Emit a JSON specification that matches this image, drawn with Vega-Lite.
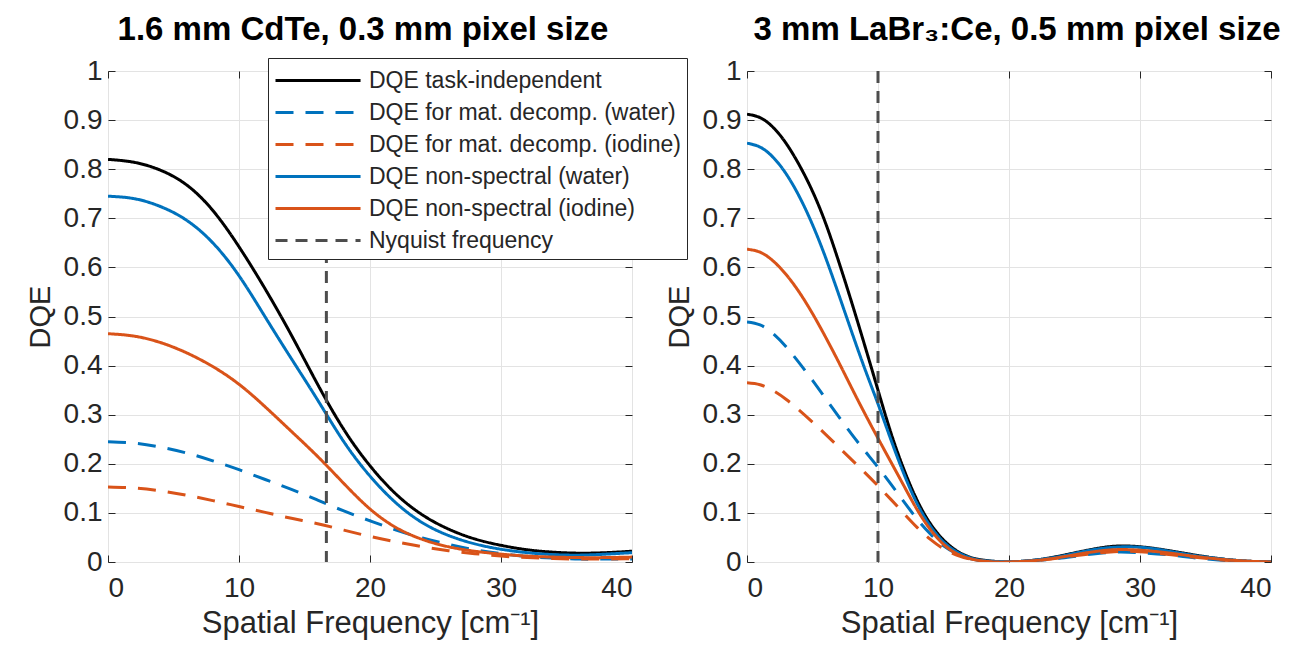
{
  "$schema": "https://vega.github.io/schema/vega-lite/v6.json",
  "background": "white",
  "padding": {"left": 25, "top": 13, "right": 10, "bottom": 10},
  "bounds": "flush",
  "spacing": 115,
  "config": {
    "font": "Liberation Sans",
    "view": {"stroke": "#262626", "strokeWidth": 1},
    "axis": {
      "domain": false,
      "labelFont": "Liberation Sans",
      "titleFont": "Liberation Sans",
      "labelColor": "#262626",
      "titleColor": "#262626",
      "tickColor": "#262626",
      "labelFontSize": 28,
      "titleFontWeight": "normal",
      "gridColor": "#e3e3e3",
      "gridWidth": 1,
      "tickSize": -7,
      "tickWidth": 1
    },
    "axisX": {"titleFontSize": 31, "labelPadding": 19, "titlePadding": 6},
    "axisY": {"titleFontSize": 29, "labelPadding": 13, "titlePadding": 8},
    "title": {"fontSize": 33, "fontWeight": "bold", "color": "#000000", "frame": "group", "anchor": "middle", "offset": 10, "font": "Liberation Sans"}
  },
  "resolve": {"scale": {"color": "independent", "strokeDash": "independent", "strokeWidth": "independent"}},
  "data": {"values": [
    {"panel":"L","series":"DQE task-independent","freq":0,"dqe":0.820},
    {"panel":"L","series":"DQE task-independent","freq":2,"dqe":0.814},
    {"panel":"L","series":"DQE task-independent","freq":4,"dqe":0.798},
    {"panel":"L","series":"DQE task-independent","freq":6,"dqe":0.768},
    {"panel":"L","series":"DQE task-independent","freq":8,"dqe":0.716},
    {"panel":"L","series":"DQE task-independent","freq":10,"dqe":0.642},
    {"panel":"L","series":"DQE task-independent","freq":12,"dqe":0.556},
    {"panel":"L","series":"DQE task-independent","freq":14,"dqe":0.462},
    {"panel":"L","series":"DQE task-independent","freq":16,"dqe":0.362},
    {"panel":"L","series":"DQE task-independent","freq":18,"dqe":0.270},
    {"panel":"L","series":"DQE task-independent","freq":20,"dqe":0.196},
    {"panel":"L","series":"DQE task-independent","freq":22,"dqe":0.138},
    {"panel":"L","series":"DQE task-independent","freq":24,"dqe":0.096},
    {"panel":"L","series":"DQE task-independent","freq":26,"dqe":0.067},
    {"panel":"L","series":"DQE task-independent","freq":28,"dqe":0.047},
    {"panel":"L","series":"DQE task-independent","freq":30,"dqe":0.034},
    {"panel":"L","series":"DQE task-independent","freq":32,"dqe":0.025},
    {"panel":"L","series":"DQE task-independent","freq":34,"dqe":0.020},
    {"panel":"L","series":"DQE task-independent","freq":36,"dqe":0.018},
    {"panel":"L","series":"DQE task-independent","freq":38,"dqe":0.019},
    {"panel":"L","series":"DQE task-independent","freq":40,"dqe":0.022},
    {"panel":"L","series":"DQE for mat. decomp. (water)","freq":0,"dqe":0.245},
    {"panel":"L","series":"DQE for mat. decomp. (water)","freq":2,"dqe":0.242},
    {"panel":"L","series":"DQE for mat. decomp. (water)","freq":4,"dqe":0.234},
    {"panel":"L","series":"DQE for mat. decomp. (water)","freq":6,"dqe":0.222},
    {"panel":"L","series":"DQE for mat. decomp. (water)","freq":8,"dqe":0.206},
    {"panel":"L","series":"DQE for mat. decomp. (water)","freq":10,"dqe":0.188},
    {"panel":"L","series":"DQE for mat. decomp. (water)","freq":12,"dqe":0.168},
    {"panel":"L","series":"DQE for mat. decomp. (water)","freq":14,"dqe":0.148},
    {"panel":"L","series":"DQE for mat. decomp. (water)","freq":16,"dqe":0.126},
    {"panel":"L","series":"DQE for mat. decomp. (water)","freq":18,"dqe":0.104},
    {"panel":"L","series":"DQE for mat. decomp. (water)","freq":20,"dqe":0.084},
    {"panel":"L","series":"DQE for mat. decomp. (water)","freq":22,"dqe":0.065},
    {"panel":"L","series":"DQE for mat. decomp. (water)","freq":24,"dqe":0.049},
    {"panel":"L","series":"DQE for mat. decomp. (water)","freq":26,"dqe":0.036},
    {"panel":"L","series":"DQE for mat. decomp. (water)","freq":28,"dqe":0.025},
    {"panel":"L","series":"DQE for mat. decomp. (water)","freq":30,"dqe":0.017},
    {"panel":"L","series":"DQE for mat. decomp. (water)","freq":32,"dqe":0.011},
    {"panel":"L","series":"DQE for mat. decomp. (water)","freq":34,"dqe":0.008},
    {"panel":"L","series":"DQE for mat. decomp. (water)","freq":36,"dqe":0.006},
    {"panel":"L","series":"DQE for mat. decomp. (water)","freq":38,"dqe":0.006},
    {"panel":"L","series":"DQE for mat. decomp. (water)","freq":40,"dqe":0.006},
    {"panel":"L","series":"DQE for mat. decomp. (iodine)","freq":0,"dqe":0.153},
    {"panel":"L","series":"DQE for mat. decomp. (iodine)","freq":2,"dqe":0.151},
    {"panel":"L","series":"DQE for mat. decomp. (iodine)","freq":4,"dqe":0.145},
    {"panel":"L","series":"DQE for mat. decomp. (iodine)","freq":6,"dqe":0.136},
    {"panel":"L","series":"DQE for mat. decomp. (iodine)","freq":8,"dqe":0.125},
    {"panel":"L","series":"DQE for mat. decomp. (iodine)","freq":10,"dqe":0.113},
    {"panel":"L","series":"DQE for mat. decomp. (iodine)","freq":12,"dqe":0.101},
    {"panel":"L","series":"DQE for mat. decomp. (iodine)","freq":14,"dqe":0.089},
    {"panel":"L","series":"DQE for mat. decomp. (iodine)","freq":16,"dqe":0.078},
    {"panel":"L","series":"DQE for mat. decomp. (iodine)","freq":18,"dqe":0.065},
    {"panel":"L","series":"DQE for mat. decomp. (iodine)","freq":20,"dqe":0.052},
    {"panel":"L","series":"DQE for mat. decomp. (iodine)","freq":22,"dqe":0.041},
    {"panel":"L","series":"DQE for mat. decomp. (iodine)","freq":24,"dqe":0.031},
    {"panel":"L","series":"DQE for mat. decomp. (iodine)","freq":26,"dqe":0.023},
    {"panel":"L","series":"DQE for mat. decomp. (iodine)","freq":28,"dqe":0.017},
    {"panel":"L","series":"DQE for mat. decomp. (iodine)","freq":30,"dqe":0.012},
    {"panel":"L","series":"DQE for mat. decomp. (iodine)","freq":32,"dqe":0.009},
    {"panel":"L","series":"DQE for mat. decomp. (iodine)","freq":34,"dqe":0.007},
    {"panel":"L","series":"DQE for mat. decomp. (iodine)","freq":36,"dqe":0.006},
    {"panel":"L","series":"DQE for mat. decomp. (iodine)","freq":38,"dqe":0.006},
    {"panel":"L","series":"DQE for mat. decomp. (iodine)","freq":40,"dqe":0.007},
    {"panel":"L","series":"DQE non-spectral (water)","freq":0,"dqe":0.745},
    {"panel":"L","series":"DQE non-spectral (water)","freq":2,"dqe":0.740},
    {"panel":"L","series":"DQE non-spectral (water)","freq":4,"dqe":0.724},
    {"panel":"L","series":"DQE non-spectral (water)","freq":6,"dqe":0.696},
    {"panel":"L","series":"DQE non-spectral (water)","freq":8,"dqe":0.650},
    {"panel":"L","series":"DQE non-spectral (water)","freq":10,"dqe":0.583},
    {"panel":"L","series":"DQE non-spectral (water)","freq":12,"dqe":0.499},
    {"panel":"L","series":"DQE non-spectral (water)","freq":14,"dqe":0.414},
    {"panel":"L","series":"DQE non-spectral (water)","freq":16,"dqe":0.330},
    {"panel":"L","series":"DQE non-spectral (water)","freq":18,"dqe":0.245},
    {"panel":"L","series":"DQE non-spectral (water)","freq":20,"dqe":0.175},
    {"panel":"L","series":"DQE non-spectral (water)","freq":22,"dqe":0.120},
    {"panel":"L","series":"DQE non-spectral (water)","freq":24,"dqe":0.080},
    {"panel":"L","series":"DQE non-spectral (water)","freq":26,"dqe":0.054},
    {"panel":"L","series":"DQE non-spectral (water)","freq":28,"dqe":0.037},
    {"panel":"L","series":"DQE non-spectral (water)","freq":30,"dqe":0.026},
    {"panel":"L","series":"DQE non-spectral (water)","freq":32,"dqe":0.019},
    {"panel":"L","series":"DQE non-spectral (water)","freq":34,"dqe":0.015},
    {"panel":"L","series":"DQE non-spectral (water)","freq":36,"dqe":0.014},
    {"panel":"L","series":"DQE non-spectral (water)","freq":38,"dqe":0.016},
    {"panel":"L","series":"DQE non-spectral (water)","freq":40,"dqe":0.019},
    {"panel":"L","series":"DQE non-spectral (iodine)","freq":0,"dqe":0.465},
    {"panel":"L","series":"DQE non-spectral (iodine)","freq":2,"dqe":0.460},
    {"panel":"L","series":"DQE non-spectral (iodine)","freq":4,"dqe":0.447},
    {"panel":"L","series":"DQE non-spectral (iodine)","freq":6,"dqe":0.426},
    {"panel":"L","series":"DQE non-spectral (iodine)","freq":8,"dqe":0.398},
    {"panel":"L","series":"DQE non-spectral (iodine)","freq":10,"dqe":0.362},
    {"panel":"L","series":"DQE non-spectral (iodine)","freq":12,"dqe":0.316},
    {"panel":"L","series":"DQE non-spectral (iodine)","freq":14,"dqe":0.266},
    {"panel":"L","series":"DQE non-spectral (iodine)","freq":16,"dqe":0.215},
    {"panel":"L","series":"DQE non-spectral (iodine)","freq":18,"dqe":0.160},
    {"panel":"L","series":"DQE non-spectral (iodine)","freq":20,"dqe":0.108},
    {"panel":"L","series":"DQE non-spectral (iodine)","freq":22,"dqe":0.070},
    {"panel":"L","series":"DQE non-spectral (iodine)","freq":24,"dqe":0.046},
    {"panel":"L","series":"DQE non-spectral (iodine)","freq":26,"dqe":0.031},
    {"panel":"L","series":"DQE non-spectral (iodine)","freq":28,"dqe":0.022},
    {"panel":"L","series":"DQE non-spectral (iodine)","freq":30,"dqe":0.016},
    {"panel":"L","series":"DQE non-spectral (iodine)","freq":32,"dqe":0.012},
    {"panel":"L","series":"DQE non-spectral (iodine)","freq":34,"dqe":0.010},
    {"panel":"L","series":"DQE non-spectral (iodine)","freq":36,"dqe":0.009},
    {"panel":"L","series":"DQE non-spectral (iodine)","freq":38,"dqe":0.009},
    {"panel":"L","series":"DQE non-spectral (iodine)","freq":40,"dqe":0.010},
    {"panel":"L","series":"Nyquist frequency","freq":16.67},
    {"panel":"R","series":"DQE task-independent","freq":0,"dqe":0.912},
    {"panel":"R","series":"DQE task-independent","freq":1,"dqe":0.905},
    {"panel":"R","series":"DQE task-independent","freq":2,"dqe":0.885},
    {"panel":"R","series":"DQE task-independent","freq":3,"dqe":0.852},
    {"panel":"R","series":"DQE task-independent","freq":4,"dqe":0.808},
    {"panel":"R","series":"DQE task-independent","freq":5,"dqe":0.755},
    {"panel":"R","series":"DQE task-independent","freq":6,"dqe":0.690},
    {"panel":"R","series":"DQE task-independent","freq":7,"dqe":0.612},
    {"panel":"R","series":"DQE task-independent","freq":8,"dqe":0.528},
    {"panel":"R","series":"DQE task-independent","freq":9,"dqe":0.440},
    {"panel":"R","series":"DQE task-independent","freq":10,"dqe":0.350},
    {"panel":"R","series":"DQE task-independent","freq":11,"dqe":0.262},
    {"panel":"R","series":"DQE task-independent","freq":12,"dqe":0.187},
    {"panel":"R","series":"DQE task-independent","freq":13,"dqe":0.125},
    {"panel":"R","series":"DQE task-independent","freq":14,"dqe":0.078},
    {"panel":"R","series":"DQE task-independent","freq":15,"dqe":0.045},
    {"panel":"R","series":"DQE task-independent","freq":16,"dqe":0.023},
    {"panel":"R","series":"DQE task-independent","freq":17,"dqe":0.010},
    {"panel":"R","series":"DQE task-independent","freq":18,"dqe":0.004},
    {"panel":"R","series":"DQE task-independent","freq":19,"dqe":0.001},
    {"panel":"R","series":"DQE task-independent","freq":20,"dqe":0.000},
    {"panel":"R","series":"DQE task-independent","freq":22,"dqe":0.004},
    {"panel":"R","series":"DQE task-independent","freq":24,"dqe":0.013},
    {"panel":"R","series":"DQE task-independent","freq":26,"dqe":0.024},
    {"panel":"R","series":"DQE task-independent","freq":28,"dqe":0.032},
    {"panel":"R","series":"DQE task-independent","freq":30,"dqe":0.031},
    {"panel":"R","series":"DQE task-independent","freq":32,"dqe":0.024},
    {"panel":"R","series":"DQE task-independent","freq":34,"dqe":0.015},
    {"panel":"R","series":"DQE task-independent","freq":36,"dqe":0.007},
    {"panel":"R","series":"DQE task-independent","freq":38,"dqe":0.002},
    {"panel":"R","series":"DQE task-independent","freq":40,"dqe":0.000},
    {"panel":"R","series":"DQE for mat. decomp. (water)","freq":0,"dqe":0.489},
    {"panel":"R","series":"DQE for mat. decomp. (water)","freq":1,"dqe":0.483},
    {"panel":"R","series":"DQE for mat. decomp. (water)","freq":2,"dqe":0.465},
    {"panel":"R","series":"DQE for mat. decomp. (water)","freq":3,"dqe":0.438},
    {"panel":"R","series":"DQE for mat. decomp. (water)","freq":4,"dqe":0.405},
    {"panel":"R","series":"DQE for mat. decomp. (water)","freq":5,"dqe":0.370},
    {"panel":"R","series":"DQE for mat. decomp. (water)","freq":6,"dqe":0.333},
    {"panel":"R","series":"DQE for mat. decomp. (water)","freq":7,"dqe":0.296},
    {"panel":"R","series":"DQE for mat. decomp. (water)","freq":8,"dqe":0.260},
    {"panel":"R","series":"DQE for mat. decomp. (water)","freq":9,"dqe":0.226},
    {"panel":"R","series":"DQE for mat. decomp. (water)","freq":10,"dqe":0.193},
    {"panel":"R","series":"DQE for mat. decomp. (water)","freq":11,"dqe":0.158},
    {"panel":"R","series":"DQE for mat. decomp. (water)","freq":12,"dqe":0.122},
    {"panel":"R","series":"DQE for mat. decomp. (water)","freq":13,"dqe":0.087},
    {"panel":"R","series":"DQE for mat. decomp. (water)","freq":14,"dqe":0.057},
    {"panel":"R","series":"DQE for mat. decomp. (water)","freq":15,"dqe":0.033},
    {"panel":"R","series":"DQE for mat. decomp. (water)","freq":16,"dqe":0.017},
    {"panel":"R","series":"DQE for mat. decomp. (water)","freq":17,"dqe":0.007},
    {"panel":"R","series":"DQE for mat. decomp. (water)","freq":18,"dqe":0.002},
    {"panel":"R","series":"DQE for mat. decomp. (water)","freq":19,"dqe":0.000},
    {"panel":"R","series":"DQE for mat. decomp. (water)","freq":20,"dqe":0.000},
    {"panel":"R","series":"DQE for mat. decomp. (water)","freq":22,"dqe":0.003},
    {"panel":"R","series":"DQE for mat. decomp. (water)","freq":24,"dqe":0.008},
    {"panel":"R","series":"DQE for mat. decomp. (water)","freq":26,"dqe":0.015},
    {"panel":"R","series":"DQE for mat. decomp. (water)","freq":28,"dqe":0.020},
    {"panel":"R","series":"DQE for mat. decomp. (water)","freq":30,"dqe":0.019},
    {"panel":"R","series":"DQE for mat. decomp. (water)","freq":32,"dqe":0.015},
    {"panel":"R","series":"DQE for mat. decomp. (water)","freq":34,"dqe":0.009},
    {"panel":"R","series":"DQE for mat. decomp. (water)","freq":36,"dqe":0.004},
    {"panel":"R","series":"DQE for mat. decomp. (water)","freq":38,"dqe":0.001},
    {"panel":"R","series":"DQE for mat. decomp. (water)","freq":40,"dqe":0.000},
    {"panel":"R","series":"DQE for mat. decomp. (iodine)","freq":0,"dqe":0.365},
    {"panel":"R","series":"DQE for mat. decomp. (iodine)","freq":1,"dqe":0.361},
    {"panel":"R","series":"DQE for mat. decomp. (iodine)","freq":2,"dqe":0.349},
    {"panel":"R","series":"DQE for mat. decomp. (iodine)","freq":3,"dqe":0.331},
    {"panel":"R","series":"DQE for mat. decomp. (iodine)","freq":4,"dqe":0.309},
    {"panel":"R","series":"DQE for mat. decomp. (iodine)","freq":5,"dqe":0.285},
    {"panel":"R","series":"DQE for mat. decomp. (iodine)","freq":6,"dqe":0.260},
    {"panel":"R","series":"DQE for mat. decomp. (iodine)","freq":7,"dqe":0.234},
    {"panel":"R","series":"DQE for mat. decomp. (iodine)","freq":8,"dqe":0.208},
    {"panel":"R","series":"DQE for mat. decomp. (iodine)","freq":9,"dqe":0.182},
    {"panel":"R","series":"DQE for mat. decomp. (iodine)","freq":10,"dqe":0.155},
    {"panel":"R","series":"DQE for mat. decomp. (iodine)","freq":11,"dqe":0.127},
    {"panel":"R","series":"DQE for mat. decomp. (iodine)","freq":12,"dqe":0.098},
    {"panel":"R","series":"DQE for mat. decomp. (iodine)","freq":13,"dqe":0.070},
    {"panel":"R","series":"DQE for mat. decomp. (iodine)","freq":14,"dqe":0.046},
    {"panel":"R","series":"DQE for mat. decomp. (iodine)","freq":15,"dqe":0.027},
    {"panel":"R","series":"DQE for mat. decomp. (iodine)","freq":16,"dqe":0.014},
    {"panel":"R","series":"DQE for mat. decomp. (iodine)","freq":17,"dqe":0.006},
    {"panel":"R","series":"DQE for mat. decomp. (iodine)","freq":18,"dqe":0.002},
    {"panel":"R","series":"DQE for mat. decomp. (iodine)","freq":19,"dqe":0.000},
    {"panel":"R","series":"DQE for mat. decomp. (iodine)","freq":20,"dqe":0.000},
    {"panel":"R","series":"DQE for mat. decomp. (iodine)","freq":22,"dqe":0.003},
    {"panel":"R","series":"DQE for mat. decomp. (iodine)","freq":24,"dqe":0.009},
    {"panel":"R","series":"DQE for mat. decomp. (iodine)","freq":26,"dqe":0.016},
    {"panel":"R","series":"DQE for mat. decomp. (iodine)","freq":28,"dqe":0.021},
    {"panel":"R","series":"DQE for mat. decomp. (iodine)","freq":30,"dqe":0.021},
    {"panel":"R","series":"DQE for mat. decomp. (iodine)","freq":32,"dqe":0.016},
    {"panel":"R","series":"DQE for mat. decomp. (iodine)","freq":34,"dqe":0.010},
    {"panel":"R","series":"DQE for mat. decomp. (iodine)","freq":36,"dqe":0.005},
    {"panel":"R","series":"DQE for mat. decomp. (iodine)","freq":38,"dqe":0.001},
    {"panel":"R","series":"DQE for mat. decomp. (iodine)","freq":40,"dqe":0.000},
    {"panel":"R","series":"DQE non-spectral (water)","freq":0,"dqe":0.853},
    {"panel":"R","series":"DQE non-spectral (water)","freq":1,"dqe":0.845},
    {"panel":"R","series":"DQE non-spectral (water)","freq":2,"dqe":0.824},
    {"panel":"R","series":"DQE non-spectral (water)","freq":3,"dqe":0.790},
    {"panel":"R","series":"DQE non-spectral (water)","freq":4,"dqe":0.744},
    {"panel":"R","series":"DQE non-spectral (water)","freq":5,"dqe":0.687},
    {"panel":"R","series":"DQE non-spectral (water)","freq":6,"dqe":0.620},
    {"panel":"R","series":"DQE non-spectral (water)","freq":7,"dqe":0.545},
    {"panel":"R","series":"DQE non-spectral (water)","freq":8,"dqe":0.468},
    {"panel":"R","series":"DQE non-spectral (water)","freq":9,"dqe":0.393},
    {"panel":"R","series":"DQE non-spectral (water)","freq":10,"dqe":0.322},
    {"panel":"R","series":"DQE non-spectral (water)","freq":11,"dqe":0.248},
    {"panel":"R","series":"DQE non-spectral (water)","freq":12,"dqe":0.178},
    {"panel":"R","series":"DQE non-spectral (water)","freq":13,"dqe":0.118},
    {"panel":"R","series":"DQE non-spectral (water)","freq":14,"dqe":0.073},
    {"panel":"R","series":"DQE non-spectral (water)","freq":15,"dqe":0.041},
    {"panel":"R","series":"DQE non-spectral (water)","freq":16,"dqe":0.021},
    {"panel":"R","series":"DQE non-spectral (water)","freq":17,"dqe":0.009},
    {"panel":"R","series":"DQE non-spectral (water)","freq":18,"dqe":0.003},
    {"panel":"R","series":"DQE non-spectral (water)","freq":19,"dqe":0.001},
    {"panel":"R","series":"DQE non-spectral (water)","freq":20,"dqe":0.000},
    {"panel":"R","series":"DQE non-spectral (water)","freq":22,"dqe":0.004},
    {"panel":"R","series":"DQE non-spectral (water)","freq":24,"dqe":0.012},
    {"panel":"R","series":"DQE non-spectral (water)","freq":26,"dqe":0.023},
    {"panel":"R","series":"DQE non-spectral (water)","freq":28,"dqe":0.030},
    {"panel":"R","series":"DQE non-spectral (water)","freq":30,"dqe":0.030},
    {"panel":"R","series":"DQE non-spectral (water)","freq":32,"dqe":0.023},
    {"panel":"R","series":"DQE non-spectral (water)","freq":34,"dqe":0.014},
    {"panel":"R","series":"DQE non-spectral (water)","freq":36,"dqe":0.007},
    {"panel":"R","series":"DQE non-spectral (water)","freq":38,"dqe":0.002},
    {"panel":"R","series":"DQE non-spectral (water)","freq":40,"dqe":0.000},
    {"panel":"R","series":"DQE non-spectral (iodine)","freq":0,"dqe":0.637},
    {"panel":"R","series":"DQE non-spectral (iodine)","freq":1,"dqe":0.631},
    {"panel":"R","series":"DQE non-spectral (iodine)","freq":2,"dqe":0.613},
    {"panel":"R","series":"DQE non-spectral (iodine)","freq":3,"dqe":0.585},
    {"panel":"R","series":"DQE non-spectral (iodine)","freq":4,"dqe":0.549},
    {"panel":"R","series":"DQE non-spectral (iodine)","freq":5,"dqe":0.506},
    {"panel":"R","series":"DQE non-spectral (iodine)","freq":6,"dqe":0.458},
    {"panel":"R","series":"DQE non-spectral (iodine)","freq":7,"dqe":0.407},
    {"panel":"R","series":"DQE non-spectral (iodine)","freq":8,"dqe":0.354},
    {"panel":"R","series":"DQE non-spectral (iodine)","freq":9,"dqe":0.302},
    {"panel":"R","series":"DQE non-spectral (iodine)","freq":10,"dqe":0.252},
    {"panel":"R","series":"DQE non-spectral (iodine)","freq":11,"dqe":0.203},
    {"panel":"R","series":"DQE non-spectral (iodine)","freq":12,"dqe":0.154},
    {"panel":"R","series":"DQE non-spectral (iodine)","freq":13,"dqe":0.106},
    {"panel":"R","series":"DQE non-spectral (iodine)","freq":14,"dqe":0.066},
    {"panel":"R","series":"DQE non-spectral (iodine)","freq":15,"dqe":0.036},
    {"panel":"R","series":"DQE non-spectral (iodine)","freq":16,"dqe":0.017},
    {"panel":"R","series":"DQE non-spectral (iodine)","freq":17,"dqe":0.007},
    {"panel":"R","series":"DQE non-spectral (iodine)","freq":18,"dqe":0.002},
    {"panel":"R","series":"DQE non-spectral (iodine)","freq":19,"dqe":0.000},
    {"panel":"R","series":"DQE non-spectral (iodine)","freq":20,"dqe":0.000},
    {"panel":"R","series":"DQE non-spectral (iodine)","freq":22,"dqe":0.003},
    {"panel":"R","series":"DQE non-spectral (iodine)","freq":24,"dqe":0.010},
    {"panel":"R","series":"DQE non-spectral (iodine)","freq":26,"dqe":0.019},
    {"panel":"R","series":"DQE non-spectral (iodine)","freq":28,"dqe":0.025},
    {"panel":"R","series":"DQE non-spectral (iodine)","freq":30,"dqe":0.024},
    {"panel":"R","series":"DQE non-spectral (iodine)","freq":32,"dqe":0.019},
    {"panel":"R","series":"DQE non-spectral (iodine)","freq":34,"dqe":0.012},
    {"panel":"R","series":"DQE non-spectral (iodine)","freq":36,"dqe":0.006},
    {"panel":"R","series":"DQE non-spectral (iodine)","freq":38,"dqe":0.002},
    {"panel":"R","series":"DQE non-spectral (iodine)","freq":40,"dqe":0.000},
    {"panel":"R","series":"Nyquist frequency","freq":10}
  ]},
  "hconcat": [
    {
      "width": 524,
      "height": 491,
      "title": {"text": "1.6 mm CdTe, 0.3 mm pixel size", "dx": -7},
      "resolve": {"axis": {"x": "independent", "y": "independent"}},
      "encoding": {
        "color": {"field": "series", "type": "nominal", "scale": {"domain": ["DQE task-independent", "DQE for mat. decomp. (water)", "DQE for mat. decomp. (iodine)", "DQE non-spectral (water)", "DQE non-spectral (iodine)", "Nyquist frequency"], "range": ["#000000", "#0072BD", "#D95319", "#0072BD", "#D95319", "#4D4D4D"]},
          "legend": {"orient": "none", "legendX": 160, "legendY": -13, "title": null, "symbolType": "M-1,0H4.67", "symbolSize": 900, "labelFontSize": 23, "labelFont": "Liberation Sans", "labelColor": "#262626", "strokeColor": "#262626", "fillColor": "white", "padding": 6, "rowPadding": 3, "labelOffset": 62, "labelLimit": 0}},
        "strokeDash": {"field": "series", "type": "nominal", "scale": {"domain": ["DQE task-independent", "DQE for mat. decomp. (water)", "DQE for mat. decomp. (iodine)", "DQE non-spectral (water)", "DQE non-spectral (iodine)", "Nyquist frequency"], "range": [[1, 0], [18, 12], [18, 12], [1, 0], [1, 0], [12, 8]]},
          "legend": {"orient": "none", "legendX": 160, "legendY": -13, "title": null, "symbolType": "M-1,0H4.67", "symbolSize": 900, "labelFontSize": 23, "labelFont": "Liberation Sans", "labelColor": "#262626", "strokeColor": "#262626", "fillColor": "white", "padding": 6, "rowPadding": 3, "labelOffset": 62, "labelLimit": 0}},
        "strokeWidth": {"field": "series", "type": "nominal", "scale": {"domain": ["DQE task-independent", "DQE for mat. decomp. (water)", "DQE for mat. decomp. (iodine)", "DQE non-spectral (water)", "DQE non-spectral (iodine)", "Nyquist frequency"], "range": [3, 3, 3, 3, 3, 1.8]},
          "legend": {"orient": "none", "legendX": 160, "legendY": -13, "title": null, "symbolType": "M-1,0H4.67", "symbolSize": 900, "labelFontSize": 23, "labelFont": "Liberation Sans", "labelColor": "#262626", "strokeColor": "#262626", "fillColor": "white", "padding": 6, "rowPadding": 3, "labelOffset": 62, "labelLimit": 0}}
      },
      "layer": [
        {
          "transform": [{"filter": "datum.panel === 'L' && datum.series !== 'Nyquist frequency'"}],
          "mark": {"type": "line", "interpolate": "natural", "clip": true},
          "encoding": {
            "x": {"field": "freq", "type": "quantitative", "scale": {"domain": [0, 40], "nice": false}, "axis": {"values": [0, 10, 20, 30, 40], "title": "Spatial Frequency [cm⁻¹]", "grid": true}},
            "y": {"field": "dqe", "type": "quantitative", "scale": {"domain": [0, 1], "nice": false}, "axis": {"values": [0, 0.1, 0.2, 0.3, 0.4, 0.5, 0.6, 0.7, 0.8, 0.9, 1], "format": ".1~f", "title": "DQE", "grid": true}}
          }
        },
        {
          "transform": [{"filter": "datum.panel === 'L' && datum.series === 'Nyquist frequency'"}],
          "mark": {"type": "rule"},
          "encoding": {
            "x": {"field": "freq", "type": "quantitative", "axis": null}
          }
        },
        {
          "transform": [{"filter": "datum.panel === 'L' && datum.series !== 'Nyquist frequency'"}],
          "mark": {"type": "line", "opacity": 0},
          "encoding": {
            "x": {"field": "freq", "type": "quantitative", "axis": {"orient": "top", "values": [0, 10, 20, 30, 40], "labels": false, "title": null, "grid": false}},
            "y": {"field": "dqe", "type": "quantitative", "axis": {"orient": "right", "values": [0, 0.1, 0.2, 0.3, 0.4, 0.5, 0.6, 0.7, 0.8, 0.9, 1], "labels": false, "title": null, "grid": false}}
          }
        }
      ]
    },
    {
      "width": 524,
      "height": 491,
      "title": {"text": "3 mm LaBr₃:Ce, 0.5 mm pixel size", "dx": 8},
      "resolve": {"axis": {"x": "independent", "y": "independent"}},
      "encoding": {
        "color": {"field": "series", "type": "nominal", "scale": {"domain": ["DQE task-independent", "DQE for mat. decomp. (water)", "DQE for mat. decomp. (iodine)", "DQE non-spectral (water)", "DQE non-spectral (iodine)", "Nyquist frequency"], "range": ["#000000", "#0072BD", "#D95319", "#0072BD", "#D95319", "#4D4D4D"]}, "legend": null},
        "strokeDash": {"field": "series", "type": "nominal", "scale": {"domain": ["DQE task-independent", "DQE for mat. decomp. (water)", "DQE for mat. decomp. (iodine)", "DQE non-spectral (water)", "DQE non-spectral (iodine)", "Nyquist frequency"], "range": [[1, 0], [18, 12], [18, 12], [1, 0], [1, 0], [12, 8]]}, "legend": null},
        "strokeWidth": {"field": "series", "type": "nominal", "scale": {"domain": ["DQE task-independent", "DQE for mat. decomp. (water)", "DQE for mat. decomp. (iodine)", "DQE non-spectral (water)", "DQE non-spectral (iodine)", "Nyquist frequency"], "range": [3, 3, 3, 3, 3, 1.8]}, "legend": null}
      },
      "layer": [
        {
          "transform": [{"filter": "datum.panel === 'R' && datum.series !== 'Nyquist frequency'"}],
          "mark": {"type": "line", "interpolate": "natural", "clip": true},
          "encoding": {
            "x": {"field": "freq", "type": "quantitative", "scale": {"domain": [0, 40], "nice": false}, "axis": {"values": [0, 10, 20, 30, 40], "title": "Spatial Frequency [cm⁻¹]", "grid": true}},
            "y": {"field": "dqe", "type": "quantitative", "scale": {"domain": [0, 1], "nice": false}, "axis": {"values": [0, 0.1, 0.2, 0.3, 0.4, 0.5, 0.6, 0.7, 0.8, 0.9, 1], "format": ".1~f", "title": "DQE", "grid": true}}
          }
        },
        {
          "transform": [{"filter": "datum.panel === 'R' && datum.series === 'Nyquist frequency'"}],
          "mark": {"type": "rule"},
          "encoding": {
            "x": {"field": "freq", "type": "quantitative", "axis": null}
          }
        },
        {
          "transform": [{"filter": "datum.panel === 'R' && datum.series !== 'Nyquist frequency'"}],
          "mark": {"type": "line", "opacity": 0},
          "encoding": {
            "x": {"field": "freq", "type": "quantitative", "axis": {"orient": "top", "values": [0, 10, 20, 30, 40], "labels": false, "title": null, "grid": false}},
            "y": {"field": "dqe", "type": "quantitative", "axis": {"orient": "right", "values": [0, 0.1, 0.2, 0.3, 0.4, 0.5, 0.6, 0.7, 0.8, 0.9, 1], "labels": false, "title": null, "grid": false}}
          }
        }
      ]
    }
  ]
}
